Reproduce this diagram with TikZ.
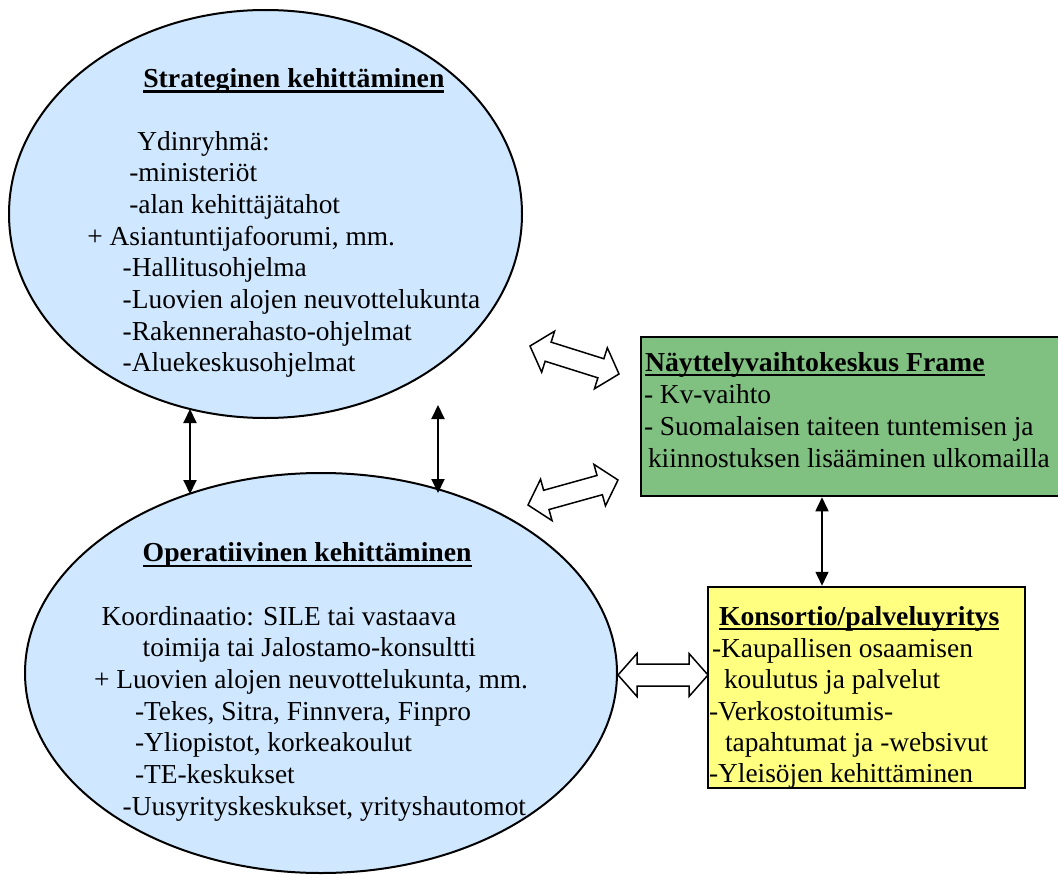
\documentclass[tikz,border=0pt]{standalone}
\usepackage{fontspec}
\usepackage{graphicx}
\setmainfont{Liberation Serif}
\usetikzlibrary{arrows.meta,calc,shapes.geometric}
\definecolor{ellblue}{RGB}{207,231,255}
\definecolor{framegreen}{RGB}{128,192,128}
\definecolor{konsyellow}{RGB}{255,255,128}
\newcommand\ultitle[1]{\setbox0\hbox{\scalebox{1.012}[1]{\bfseries #1}}\rlap{\rule[-5.2pt]{\wd0}{2.3pt}}\box0}
\newcommand\blockarrow[5]{%
  \coordinate (#1-p) at ($(#1)!#3!(#2)$);
  \coordinate (#1-q) at ($(#2)!#3!(#1)$);
  \draw[blockarr] (#1) -- ($(#1-p)!#4!90:(#2)$) -- ($(#1-p)!#5!90:(#2)$)
    -- ($(#1-q)!#5!-90:(#1)$) -- ($(#1-q)!#4!-90:(#1)$) -- (#2)
    -- ($(#1-q)!#4!90:(#1)$) -- ($(#1-q)!#5!90:(#1)$)
    -- ($(#1-p)!#5!-90:(#2)$) -- ($(#1-p)!#4!-90:(#2)$) -- cycle;
}
\tikzset{
  txt/.style={inner sep=0pt, outer sep=0pt, anchor=base west,
    font=\fontsize{27.4pt}{32pt}\selectfont},
  ellnode/.style={ellipse, draw=black, line width=2pt, fill=ellblue, inner sep=0pt},
  boxnode/.style={rectangle, draw=black, line width=2.5pt, inner sep=0pt},
  thinarr/.style={{Triangle[width=13pt,length=14pt]}-{Triangle[width=13pt,length=14pt]}, line width=2pt},
  boxarr/.style={{Triangle[width=13pt,length=14pt]}-{Triangle[width=13pt,length=14pt]}, line width=1.5pt},
  blockarr/.style={draw=black, fill=white, line width=1.5pt, line join=miter}
}
\begin{document}
\begin{tikzpicture}[x=1pt,y=-1pt]
\useasboundingbox (0,0) rectangle (1058,875);
\clip (0,0) rectangle (1058,875);
% shapes
\node[ellnode, minimum width=513pt, minimum height=408pt] (strat) at (265.5,214) {};
\node[ellnode, minimum width=592pt, minimum height=400pt] (oper) at (321,673) {};
\node[boxnode, fill=framegreen, minimum width=429pt, minimum height=159pt] (frame) at (855.5,416.5) {};
\node[boxnode, fill=konsyellow, minimum width=317pt, minimum height=201pt] (kons) at (866.5,687.5) {};
% thin double arrows
\coordinate (v1a) at (190,409);
\coordinate (v1b) at (190,494);
\coordinate (v2a) at (438,405);
\coordinate (v2b) at (438,493);
\coordinate (v3) at (822,0);
\draw[thinarr] (v1a) -- (v1b);
\draw[thinarr] (v2a) -- (v2b);
\draw[boxarr] (frame.south -| v3) -- (kons.north -| v3);
% block double arrows
\coordinate (ba1) at (530,346);
\coordinate (bb1) at (619,374);
\coordinate (ba2) at (528,505);
\coordinate (bb2) at (618,480);
\coordinate (ba3) at (618,675);
\coordinate (bb3) at (708,675);
\blockarrow{ba1}{bb1}{19pt}{21.5pt}{10pt}
\blockarrow{ba2}{bb2}{19pt}{21.5pt}{10pt}
\blockarrow{ba3}{bb3}{19pt}{21.5pt}{11pt}
% top ellipse text
\node[txt] (s0) at (143.3,87.3) {\ultitle{Strateginen kehittäminen}};
\node[txt] (s1) at (137.3,150.7) {Ydinryhmä:};
\node[txt] (s2) at (129.3,181.7) {-ministeriöt};
\node[txt] (s3) at (129.3,213.3) {-alan kehittäjätahot};
\node[txt] (s4) at (87.3,245) {+ Asiantuntijafoorumi, mm.};
\node[txt] (s5) at (122.7,276.7) {-Hallitusohjelma};
\node[txt] (s6) at (122.7,308.3) {-Luovien alojen neuvottelukunta};
\node[txt] (s7) at (122.7,340) {-Rakennerahasto-ohjelmat};
\node[txt] (s8) at (122.7,371.7) {-Aluekeskusohjelmat};
% bottom ellipse text
\node[txt] (o0) at (142.7,561.7) {\ultitle{Operatiivinen kehittäminen}};
\node[txt] (o1) at (101.7,625) {Koordinaatio: SILE tai vastaava};
\node[txt] (o2) at (142.7,656.7) {toimija tai Jalostamo-konsultti};
\node[txt] (o3) at (94,688.3) {+ Luovien alojen neuvottelukunta, mm.};
\node[txt] (o4) at (135,720) {-Tekes, Sitra, Finnvera, Finpro};
\node[txt] (o5) at (135,751.7) {-Yliopistot, korkeakoulut};
\node[txt] (o6) at (135,783.3) {-TE-keskukset};
\node[txt] (o7) at (122.7,815) {-Uusyrityskeskukset, yrityshautomot};
% green box text
\node[txt] (f0) at (645,371) {\ultitle{Näyttelyvaihtokeskus Frame}};
\node[txt] (f1) at (644,403) {- Kv-vaihto};
\node[txt] (f2) at (644,435.5) {- Suomalaisen taiteen tuntemisen ja};
\node[txt] (f3) at (648,467.5) {kiinnostuksen lisääminen ulkomailla};
% yellow box text
\node[txt] (k0) at (719,625) {\ultitle{Konsortio/palveluyritys}};
\node[txt] (k1) at (712,657) {-Kaupallisen osaamisen};
\node[txt] (k2) at (724,688.5) {koulutus ja palvelut};
\node[txt] (k3) at (709,720) {-Verkostoitumis-};
\node[txt] (k4) at (725,751) {tapahtumat ja -websivut};
\node[txt] (k5) at (709,782) {-Yleisöjen kehittäminen};
\end{tikzpicture}
\end{document}
